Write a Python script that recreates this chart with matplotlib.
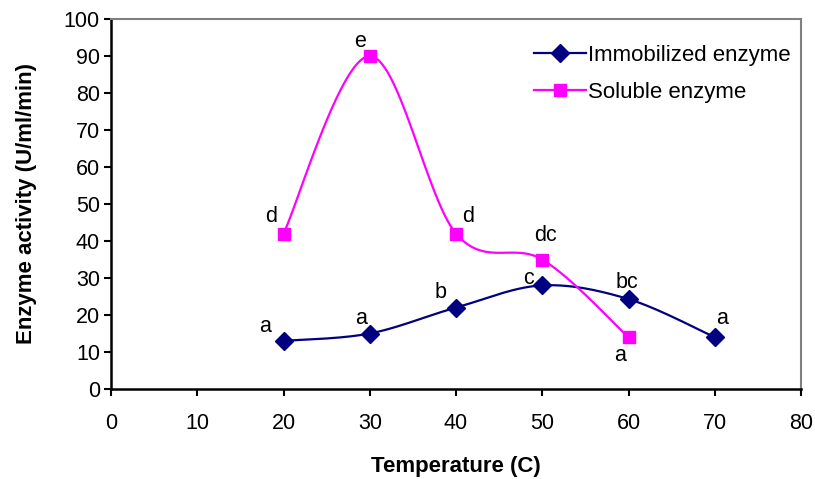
import numpy as np
import matplotlib
matplotlib.use("Agg")
import matplotlib.pyplot as plt

# data
temps_imm = [20, 30, 40, 50, 60, 70]
act_imm = [13, 15, 22, 28, 24.3, 14]
lab_imm = ["a", "a", "b", "c", "bc", "a"]

temps_sol = [20, 30, 40, 50, 60]
act_sol = [42, 90, 42, 35, 14]
lab_sol = ["d", "e", "d", "dc", "a"]

# label offsets (pixels) relative to each point
off_imm = [(-18, 14), (-9, 15), (-15, 15), (-14, 7), (-2, 17), (7, 19)]
off_sol = [(-12, 17), (-10, 14), (12, 17), (3, 24), (-8, -18)]

plt.rcParams['font.family'] = ['Liberation Sans', 'DejaVu Sans']


def smooth(x, y, n=30):
    # Catmull-Rom style bezier smoothing, like Excel's "smoothed line"
    p = np.column_stack([x, y]).astype(float)
    p = np.vstack([p[0], p, p[-1]])
    out = []
    for i in range(1, len(p) - 2):
        p0, p1, p2, p3 = p[i - 1], p[i], p[i + 1], p[i + 2]
        c1 = p1 + (p2 - p0) / 6
        c2 = p2 - (p3 - p1) / 6
        t = np.linspace(0, 1, n)[:, None]
        seg = ((1 - t) ** 3) * p1 + 3 * ((1 - t) ** 2) * t * c1 + 3 * (1 - t) * t ** 2 * c2 + t ** 3 * p2
        out.append(seg if i == 1 else seg[1:])
    s = np.vstack(out)
    return s[:, 0], s[:, 1]


fig = plt.figure(figsize=(8.15, 4.79), dpi=100)
ax = fig.add_axes([111 / 815, 90 / 479, 690 / 815, 370 / 479])

navy = '#000080'
pink = '#FF00FF'

sx, sy = smooth(temps_imm, act_imm)
ax.plot(sx, sy, color=navy, lw=1.6, zorder=2)
ax.plot(temps_imm, act_imm, ls='none', marker='D', ms=9, color=navy, zorder=3)

sx, sy = smooth(temps_sol, act_sol)
ax.plot(sx, sy, color=pink, lw=1.6, zorder=2)
ax.plot(temps_sol, act_sol, ls='none', marker='s', ms=9, color=pink, zorder=3)

# legend proxies
ax.plot([], [], color=navy, lw=1.6, marker='D', ms=9, label='Immobilized enzyme')
ax.plot([], [], color=pink, lw=1.6, marker='s', ms=9, label='Soluble enzyme')
ax.legend(loc='upper right', bbox_to_anchor=(1.0145, 0.985), frameon=False, fontsize=16,
          handlelength=2.35, handletextpad=0.1, labelspacing=0.75)

for x, y, t, o in zip(temps_imm, act_imm, lab_imm, off_imm):
    ax.annotate(t, (x, y), xytext=o, textcoords='offset pixels', ha='center', va='center', fontsize=15.5)
for x, y, t, o in zip(temps_sol, act_sol, lab_sol, off_sol):
    ax.annotate(t, (x, y), xytext=o, textcoords='offset pixels', ha='center', va='center', fontsize=15.5)

ax.set_xlim(0, 80)
ax.set_ylim(0, 100)
ax.set_xticks(range(0, 81, 10))
ax.set_yticks(range(0, 101, 10))
ax.tick_params(direction='out', length=5, width=1.5, labelsize=15.5)
ax.tick_params(axis='x', pad=12)
ax.tick_params(axis='y', pad=3)

for s in ['left', 'bottom']:
    ax.spines[s].set_color('black')
    ax.spines[s].set_linewidth(1.8)
for s in ['top', 'right']:
    ax.spines[s].set_color('#808080')
    ax.spines[s].set_linewidth(1.5)

ax.set_xlabel('Temperature (C)', fontsize=16, fontweight='bold', labelpad=16)
ax.set_ylabel('Enzyme activity (U/ml/min)', fontsize=16, fontweight='bold', labelpad=19)

fig.savefig('out.png', dpi=100)
